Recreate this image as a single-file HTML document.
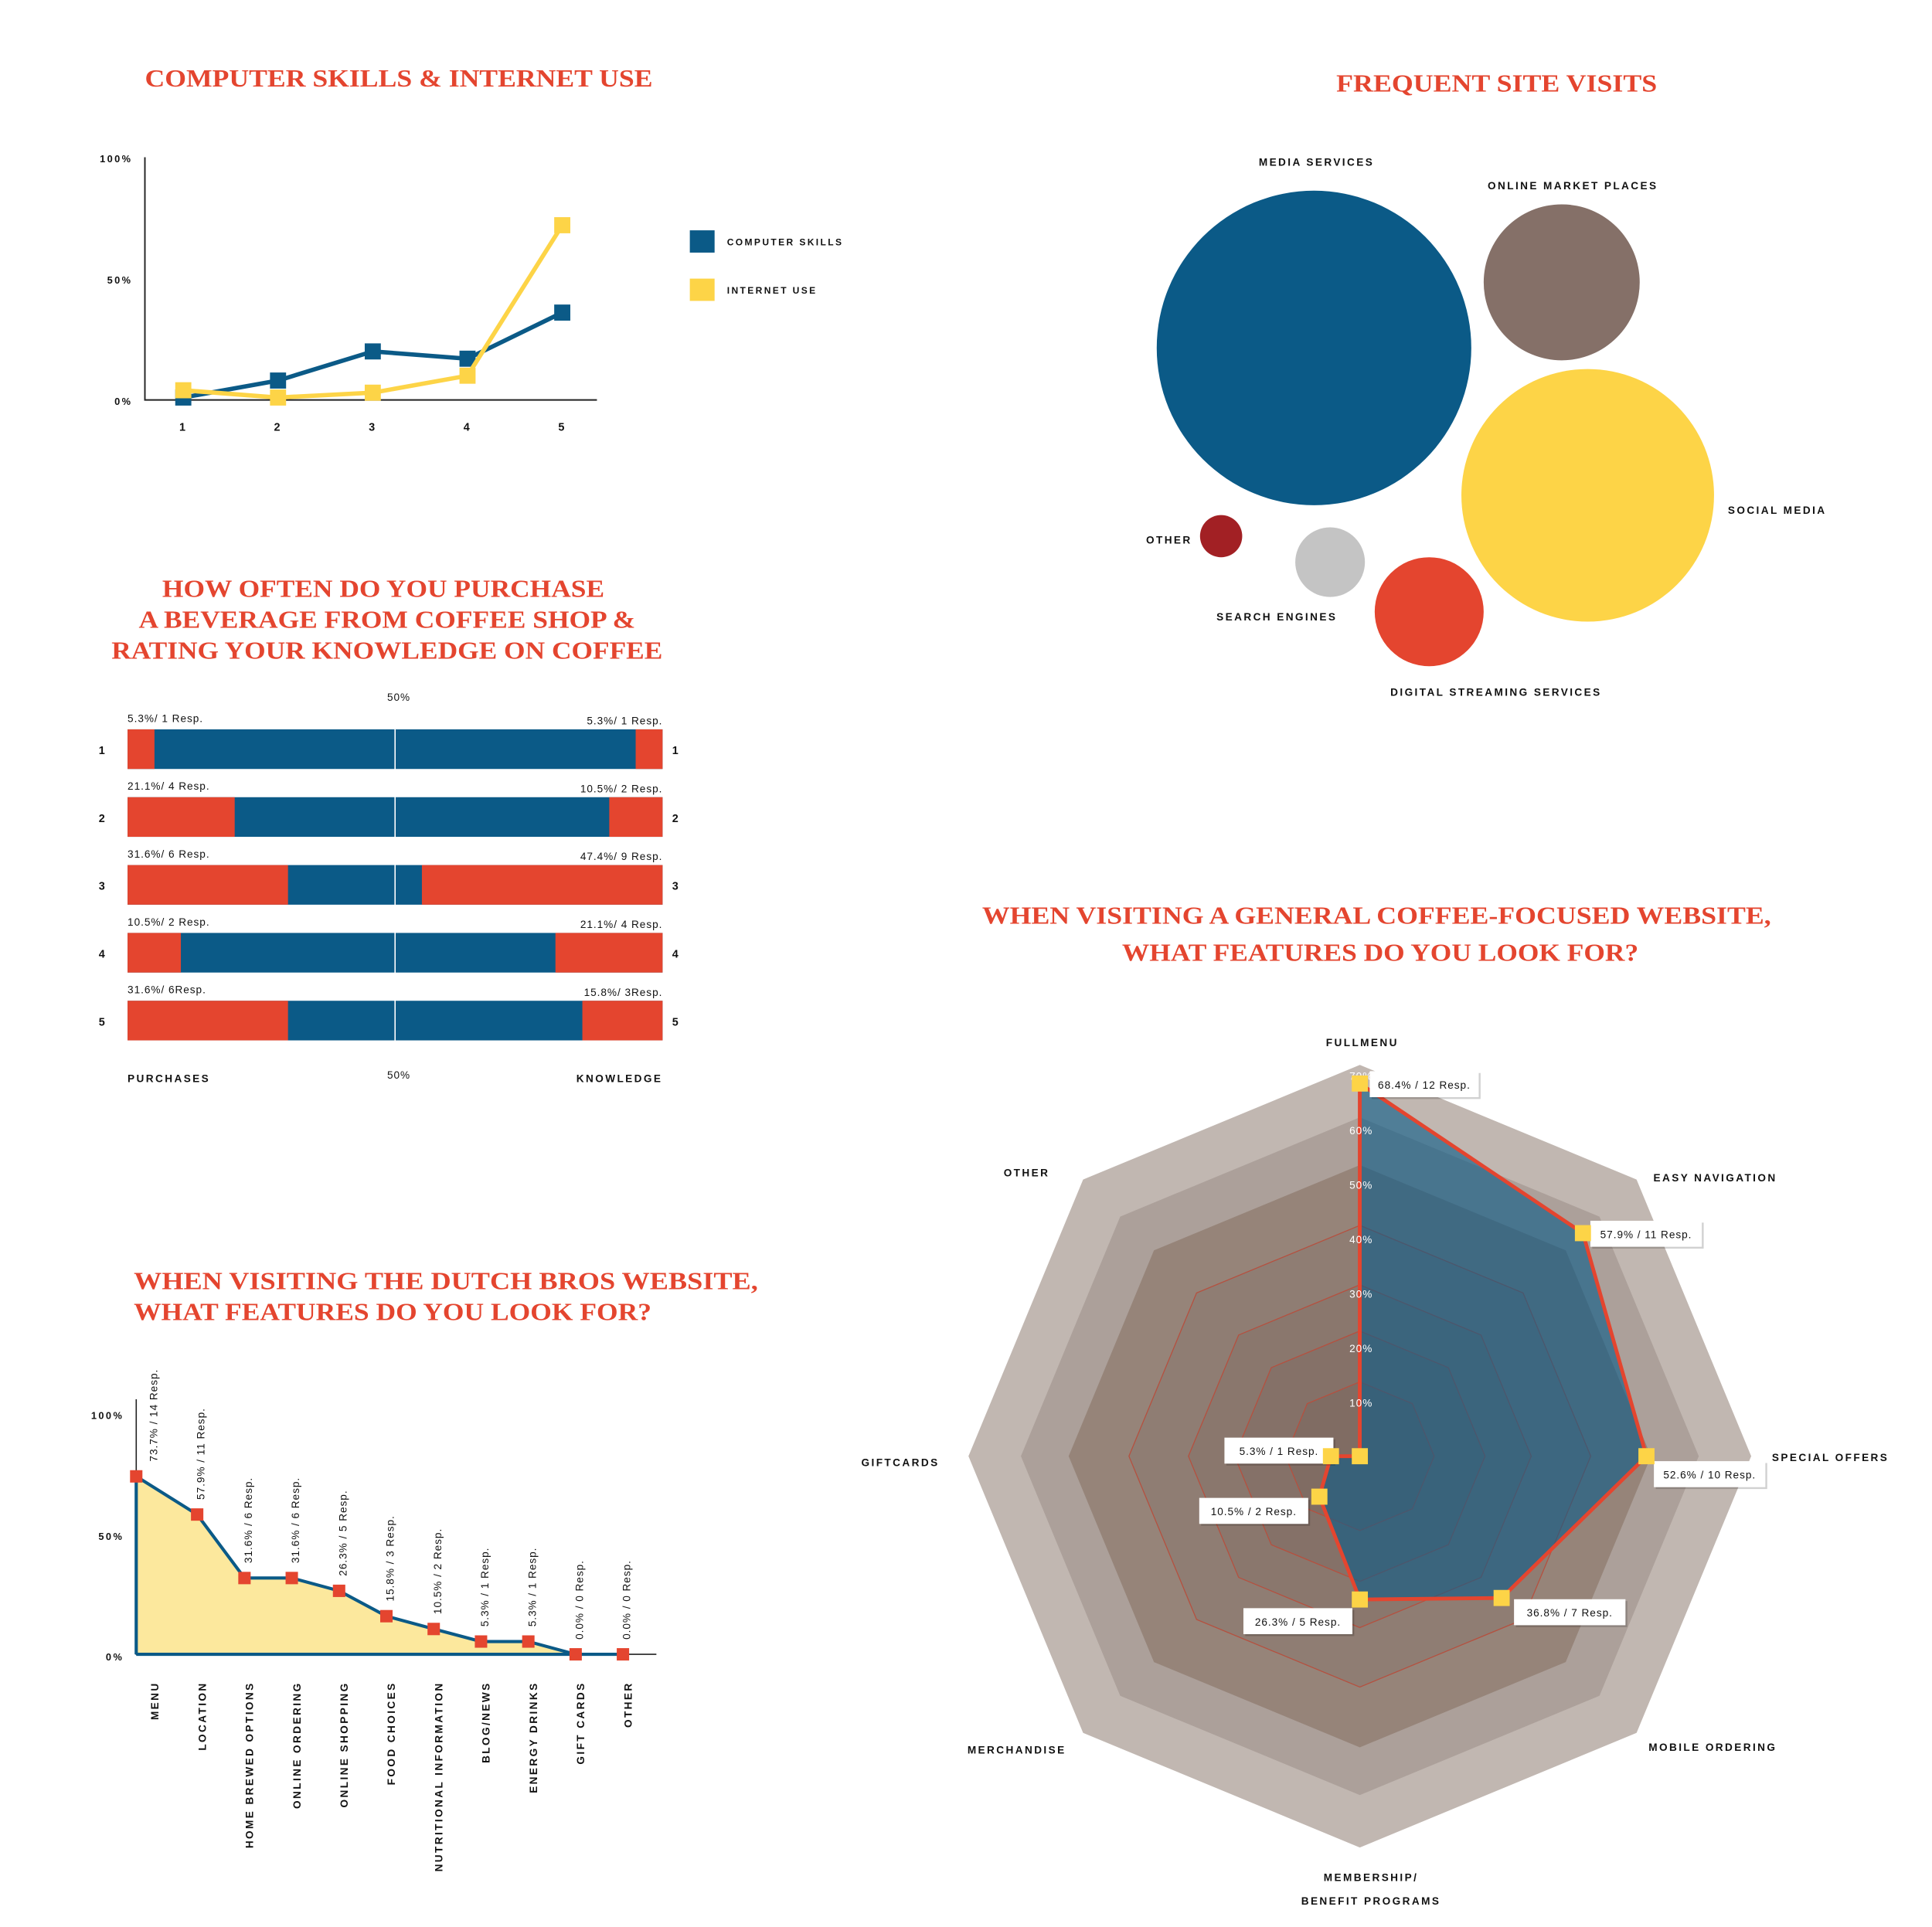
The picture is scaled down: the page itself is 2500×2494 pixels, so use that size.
<!DOCTYPE html>
<html><head><meta charset="utf-8"><style>
html,body{margin:0;padding:0;background:#fff;}
svg{display:block;}
.t{font-family:"Liberation Serif",serif;font-weight:bold;fill:#e4452f;}
.l{font-family:"Liberation Sans",sans-serif;font-weight:bold;fill:#111;letter-spacing:1.5px;}
.s{font-family:"Liberation Sans",sans-serif;fill:#111;letter-spacing:0.6px;}
</style></head><body>
<svg id="root" width="2500" height="2494" viewBox="0 0 1560 1556.2" preserveAspectRatio="none" xmlns="http://www.w3.org/2000/svg">
<rect width="1560" height="1557" fill="#fff"/>
<!-- titles -->
<text class="t" x="117" y="70" font-size="20" textLength="410" lengthAdjust="spacingAndGlyphs">COMPUTER SKILLS &amp; INTERNET USE</text>
<text class="t" x="1079" y="74" font-size="20" textLength="259" lengthAdjust="spacingAndGlyphs">FREQUENT SITE VISITS</text>
<g>
<text class="t" x="131" y="482" font-size="20" textLength="357" lengthAdjust="spacingAndGlyphs">HOW OFTEN DO YOU PURCHASE</text>
<text class="t" x="112" y="507" font-size="20" textLength="401" lengthAdjust="spacingAndGlyphs">A BEVERAGE FROM COFFEE SHOP &amp;</text>
<text class="t" x="90" y="532" font-size="20" textLength="445" lengthAdjust="spacingAndGlyphs">RATING YOUR KNOWLEDGE ON COFFEE</text>
</g>
<g>
<text class="t" x="108" y="1041" font-size="20" textLength="504" lengthAdjust="spacingAndGlyphs">WHEN  VISITING THE DUTCH BROS WEBSITE,</text>
<text class="t" x="108" y="1066" font-size="20" textLength="418" lengthAdjust="spacingAndGlyphs">WHAT FEATURES DO YOU LOOK FOR?</text>
</g>
<g>
<text class="t" x="793" y="746" font-size="20" textLength="637" lengthAdjust="spacingAndGlyphs">WHEN VISITING A GENERAL COFFEE-FOCUSED WEBSITE,</text>
<text class="t" x="906" y="776" font-size="20" textLength="417" lengthAdjust="spacingAndGlyphs">WHAT FEATURES DO YOU LOOK FOR?</text>
</g>
<g id="c1"></g>
<g id="c2"></g>
<g id="c3"></g>
<g id="c4"></g>
<g id="c5"></g>
</svg>
<script>
const NS="http://www.w3.org/2000/svg";
function mk(p,tag,a){const e=document.createElementNS(NS,tag);for(const k in a)e.setAttribute(k,a[k]);p.appendChild(e);return e;}

// ---------- chart 1 data ----------
const c1Categories=["1","2","3","4","5"];
const c1Computer=[1,8,20,17,36];
const c1Internet=[4,1,3,10,72];
const c1Ticks=["0%","50%","100%"];
const c1TickVals=[0,50,100];

// ---------- chart 2 data ----------
const c2Labels=["MEDIA SERVICES","ONLINE MARKET PLACES","SOCIAL MEDIA","OTHER","SEARCH ENGINES","DIGITAL STREAMING SERVICES"];
const c2Values=[100,24.6,64.5,1.8,4.9,12];

// ---------- chart 3 data ----------
const c3Rows=["1","2","3","4","5"];
const c3Purchases=[5.3,21.1,31.6,10.5,31.6];
const c3PurchaseText=["5.3%/ 1 Resp.","21.1%/ 4 Resp.","31.6%/ 6 Resp.","10.5%/ 2 Resp.","31.6%/ 6Resp."];
const c3Knowledge=[5.3,10.5,47.4,21.1,15.8];
const c3KnowledgeText=["5.3%/ 1 Resp.","10.5%/ 2 Resp.","47.4%/ 9 Resp.","21.1%/ 4 Resp.","15.8%/ 3Resp."];

// ---------- chart 4 data ----------
const c4Categories=["MENU","LOCATION","HOME BREWED OPTIONS","ONLINE ORDERING","ONLINE SHOPPING","FOOD CHOICES","NUTRITIONAL INFORMATION","BLOG/NEWS","ENERGY DRINKS","GIFT CARDS","OTHER"];
const c4Values=[73.7,57.9,31.6,31.6,26.3,15.8,10.5,5.3,5.3,0,0];
const c4Resp=[14,11,6,6,5,3,2,1,1,0,0];
const c4Ticks=["0%","50%","100%"];
const c4TickVals=[0,50,100];

// ---------- chart 5 data ----------
const c5Axes=["FULLMENU","EASY NAVIGATION","SPECIAL OFFERS","MOBILE ORDERING","MEMBERSHIP/|BENEFIT PROGRAMS","MERCHANDISE","GIFTCARDS","OTHER"];
const c5Values=[68.4,57.9,52.6,36.8,26.3,10.5,5.3,0];
const c5Resp=[12,11,10,7,5,2,1,0];
const c5Ticks=[10,20,30,40,50,60,70];

// ===== chart 1 =====
(function(){
 const g=document.getElementById('c1');
 const x=i=>148+76.5*i, y=v=>323-v*1.96;
 const ax=mk(g,'path',{d:'M117 127 V323 H482',stroke:'#222','stroke-width':1.2,fill:'none'});
 
 
 c1TickVals.forEach((v,i)=>{const t=mk(g,'text',{x:107,y:y(v)+4,'text-anchor':'end','font-size':8,class:'l'});t.textContent=c1Ticks[i];
  
  });
 c1Categories.forEach((c,i)=>{const t=mk(g,'text',{x:x(i),y:348,'text-anchor':'middle','font-size':9,class:'l'});t.textContent=c;
  
  });
 [[c1Computer,'#0b5a87','computer-skills'],[c1Internet,'#fdd447','internet-use']].forEach(([arr,col,nm])=>{
  const ln=mk(g,'polyline',{points:arr.map((v,i)=>x(i)+','+y(v)).join(' '),fill:'none',stroke:col,'stroke-width':3.5});
  
  
  arr.forEach((v,i)=>{const m=mk(g,'rect',{x:x(i)-6.5,y:y(v)-6.5,width:13,height:13,fill:col});
   
   });
 });
 const lg=[['COMPUTER SKILLS','#0b5a87',186],['INTERNET USE','#fdd447',225]];
 lg.forEach(([t,c,yy])=>{const r=mk(g,'rect',{x:557,y:yy,width:20,height:18,fill:c});
  
  
  const tx=mk(g,'text',{x:587,y:yy+12,'font-size':7.5,class:'l'});tx.textContent=t;
  
  });
})();

// ===== chart 2 =====
(function(){
 const g=document.getElementById('c2');
 const cx=[1061,1261,1282,986,1074,1154], cy=[281,228,400,433,454,494];
 const cols=['#0b5a87','#857068','#fdd447','#a22024','#c4c4c4','#e4452f'];
 const lx=[1063,1270,1435,944,1031,1208], ly=[134,153,415,439,501,562];
 const rad=v=>127*Math.sqrt(v/100);
 c2Values.forEach((v,i)=>{
  const c=mk(g,'circle',{cx:cx[i],cy:cy[i],r:rad(v),fill:cols[i]});
  
  
  const t=mk(g,'text',{x:lx[i],y:ly[i],'text-anchor':'middle','font-size':8.5,class:'l'});t.textContent=c2Labels[i];
  
  
 });
})();

// ===== chart 3 =====
(function(){
 const g=document.getElementById('c3');
 const L=103,R=535,H=32,k=4.1;
 const top=i=>589+54.8*i;
 c3Rows.forEach((r,i)=>{
  const b=mk(g,'rect',{x:L,y:top(i),width:R-L,height:H,fill:'#0b5a87'});
  
  
  const pl=mk(g,'rect',{x:L,y:top(i),width:c3Purchases[i]*k,height:H,fill:'#e4452f'});
  
  
  const kw=c3Knowledge[i]*k;
  const kr=mk(g,'rect',{x:R-kw,y:top(i),width:kw,height:H,fill:'#e4452f'});
  
  
  const t1=mk(g,'text',{x:L,y:top(i)-6,'font-size':8.5,class:'s'});t1.textContent=c3PurchaseText[i];
  
  
  const t2=mk(g,'text',{x:R,y:top(i)-4,'font-size':8.5,'text-anchor':'end',class:'s'});t2.textContent=c3KnowledgeText[i];
  
  
  const n1=mk(g,'text',{x:83,y:top(i)+20,'font-size':9,'text-anchor':'middle',class:'l'});n1.textContent=r;
  
  
  const n2=mk(g,'text',{x:546,y:top(i)+20,'font-size':9,'text-anchor':'middle',class:'l'});n2.textContent=r;
  
  
 });
 const mid=mk(g,'line',{x1:319,x2:319,y1:589,y2:top(4)+H,stroke:'#fff','stroke-width':1});
 
 
 [[566],[871]].forEach(([yy])=>{const t=mk(g,'text',{x:322,y:yy,'font-size':8.5,'text-anchor':'middle',class:'s'});t.textContent='50%';
  
  });
 const a=mk(g,'text',{x:103,y:874,'font-size':8.5,class:'l'});a.textContent='PURCHASES';
 
 
 const b=mk(g,'text',{x:535,y:874,'font-size':8.5,'text-anchor':'end',class:'l'});b.textContent='KNOWLEDGE';
 
 
})();

// ===== chart 4 =====
(function(){
 const g=document.getElementById('c4');
 const x=i=>i===0?110:121+38.2*i, y=v=>1336-v*1.95;
 const pts=c4Values.map((v,i)=>x(i)+','+y(v));
 const area=mk(g,'polygon',{points:x(0)+',1336 '+pts.join(' ')+' '+x(c4Values.length-1)+',1336',fill:'#fce89d'});
 
 
 const ya=mk(g,'path',{d:'M110 1130 V1336 H530',stroke:'#222','stroke-width':1,fill:'none'});
 
 
 const ln=mk(g,'polyline',{points:x(0)+',1336 '+pts.join(' ')+' '+x(c4Values.length-1)+',1336 110,1336',fill:'none',stroke:'#0b5a87','stroke-width':2.6});
 
 
 c4TickVals.forEach((v,i)=>{const t=mk(g,'text',{x:100,y:y(v)+5,'text-anchor':'end','font-size':8,class:'l'});t.textContent=c4Ticks[i];
  
  });
 c4Values.forEach((v,i)=>{
  const m=mk(g,'rect',{x:x(i)-5,y:y(v)-5,width:10,height:10,fill:'#e4452f'});
  
  
  const tx=x(i)+(i===0?13:2)+4, ty=y(v)-12;
  const t=mk(g,'text',{x:tx,y:ty,'font-size':8.5,class:'s',transform:'rotate(-90 '+tx+' '+ty+')'});
  t.textContent=v.toFixed(1)+'% / '+c4Resp[i]+' Resp.';
  
  
  const cx=123+38.2*i+5, cy=1358;
  const c=mk(g,'text',{x:cx,y:cy,'font-size':8.5,'text-anchor':'end',class:'l',transform:'rotate(-90 '+cx+' '+cy+')'});
  c.textContent=c4Categories[i];
  
  
 });
})();

// ===== chart 5 =====
(function(){
 const g=document.getElementById('c5');
 const CX=1098,CY=1176,R=316,n=8;
 const ang=i=>-Math.PI/2+i*Math.PI/4;
 const oct=r=>Array.from({length:n},(_,i)=>(CX+r*Math.cos(ang(i)))+','+(CY+r*Math.sin(ang(i)))).join(' ');
 const rv=v=>v*4.4;
 [[1,'#c1b7b1'],[0.866,'#aca09a'],[0.744,'#968479'],[0.59,'#8f7d73'],[0.438,'#8a776d'],[0.32,'#857168'],[0.19,'#806c63']].forEach(([f,c],j)=>{
  const p=mk(g,'polygon',{points:oct(R*f),fill:c,stroke:j>=3?'#b5503f':'none','stroke-width':0.8});
  
  
 });
 const poly=c5Values.map((v,i)=>(CX+rv(v)*Math.cos(ang(i)))+','+(CY+rv(v)*Math.sin(ang(i)))).join(' ');
 const area=mk(g,'polygon',{points:poly,fill:'#0b5a87','fill-opacity':0.62,stroke:'#e4452f','stroke-width':3,'stroke-linejoin':'miter'});
 
 
 const sp=mk(g,'line',{x1:CX,y1:CY,x2:CX,y2:CY-rv(c5Values[0]),stroke:'#e4452f','stroke-width':3});
 
 
 c5Ticks.forEach(v=>{const t=mk(g,'text',{x:CX+1,y:CY-rv(v)+4,'font-size':8.5,'text-anchor':'middle',class:'s',fill:'#fff',style:'fill:#fff'});t.textContent=v+'%';
  
  });
 const off=[[8,-10],[6,-10],[6,4],[10,1],[-94,7],[-97,1],[-86,-15],[0,0]];
 c5Values.forEach((v,i)=>{
  const px=CX+rv(v)*Math.cos(ang(i)), py=CY+rv(v)*Math.sin(ang(i));
  if(i<7){
   const bx=px+off[i][0], by=py+off[i][1], w=(i===1||i===2||i===3)?90:88;
   const bg=mk(g,'rect',{x:bx+1.5,y:by+1.5,width:w,height:21,fill:'#000','fill-opacity':0.18});
   
   
   const b=mk(g,'rect',{x:bx,y:by,width:w,height:21,fill:'#fff'});
   
   
   const t=mk(g,'text',{x:bx+w/2,y:by+14,'font-size':8.5,'text-anchor':'middle',class:'s'});t.textContent=v.toFixed(1)+'% / '+c5Resp[i]+' Resp.';
   
   
  }
  const m=mk(g,'rect',{x:px-6.5,y:py-6.5,width:13,height:13,fill:'#fdd447'});
  
  
 });
 const lp=[[1100,845,'middle'],[1385,954,'middle'],[1478,1180,'middle'],[1383,1414,'middle'],[1107,1519,'middle'],[821,1416,'middle'],[727,1184,'middle'],[829,950,'middle']];
 c5Axes.forEach((a,i)=>{
  a.split('|').forEach((s,j)=>{
   const t=mk(g,'text',{x:lp[i][0],y:lp[i][1]+j*19,'font-size':8.5,'text-anchor':lp[i][2],class:'l'});t.textContent=s;
   
   
  });
 });
})();
</script>
</body></html>
